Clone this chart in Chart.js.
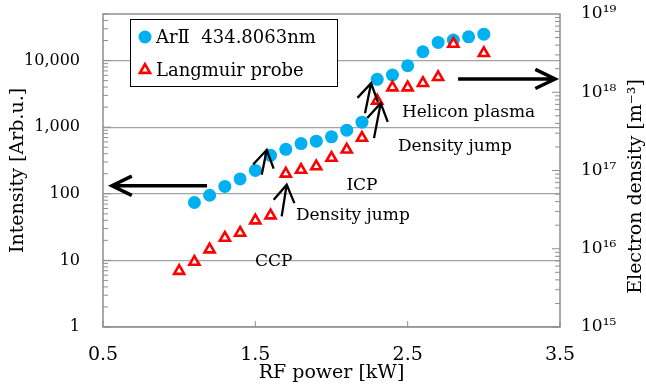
<!DOCTYPE html>
<html>
<head>
<meta charset="utf-8">
<script src="https://cdn.jsdelivr.net/npm/chart.js@4.4.1/dist/chart.umd.min.js"></script>
<style>
  html, body { margin: 0; padding: 0; background: #fff; }
</style>
</head>
<body>
<canvas id="densityChart" width="646" height="385"></canvas>
<script>
// Ar II line intensity (left axis) and Langmuir probe density (right axis) vs RF power
const powerAr = [1.1, 1.2, 1.3, 1.4, 1.5, 1.6, 1.7, 1.8, 1.9, 2.0, 2.1, 2.2, 2.3, 2.4, 2.5, 2.6, 2.7, 2.8, 2.9, 3.0];
const arIntensity = [74, 95, 129, 167, 224, 378, 465, 568, 617, 716, 901, 1190, 5230, 6070, 8360, 13550, 18700, 20300, 22700, 24900];

const powerProbe = [1.0, 1.1, 1.2, 1.3, 1.4, 1.5, 1.6, 1.7, 1.8, 1.9, 2.0, 2.1, 2.2, 2.3, 2.4, 2.5, 2.6, 2.7, 2.8, 3.0];
const probeDensity = [5.2e15, 6.8e15, 9.8e15, 1.38e16, 1.6e16, 2.3e16, 2.66e16, 9.1e16, 1.02e17, 1.13e17,
  1.45e17, 1.85e17, 2.61e17, 7.8e17, 1.15e18, 1.15e18, 1.31e18, 1.56e18, 4.16e18, 3.16e18];

const intensityTicks = [1, 10, 100, 1000, 10000];
const densityTicks = [1e15, 1e16, 1e17, 1e18, 1e19];
const powerTicks = [0.5, 1.5, 2.5, 3.5];

// text and arrows, in data units of the x / left axes
const regionLabels = [
  { text: "Helicon plasma", x: 2.90, y: 1630 },
  { text: "Density jump", x: 2.81, y: 507 },
  { text: "ICP", x: 2.20, y: 132 },
  { text: "Density jump", x: 2.14, y: 47 },
  { text: "CCP", x: 1.62, y: 9.6 },
];
const axisArrows = [
  { from: [1.183, 132], to: [0.559, 132] },
  { from: [2.831, 5290], to: [3.468, 5290] },
];
const jumpArrows = [
  { from: [1.542, 193], to: [1.575, 457] },
  { from: [1.673, 45.9], to: [1.706, 137] },
  { from: [2.220, 1621], to: [2.260, 4560] },
  { from: [2.279, 684], to: [2.323, 2287] },
];

const SERIF = '"DejaVu Serif", "Liberation Serif", serif';
const FRAME = "#8f8f8f";
const SUP = { "0": "\u2070", "1": "\u00b9", "2": "\u00b2", "3": "\u00b3", "4": "\u2074",
  "5": "\u2075", "6": "\u2076", "7": "\u2077", "8": "\u2078", "9": "\u2079" };

Chart.defaults.font.family = SERIF;
Chart.defaults.color = "#000";

function drawArrow(ctx, x1, y1, x2, y2, head, spread, width) {
  const ang = Math.atan2(y1 - y2, x1 - x2);
  ctx.lineWidth = width;
  ctx.beginPath();
  ctx.moveTo(x1, y1);
  ctx.lineTo(x2, y2);
  ctx.moveTo(x2 + Math.cos(ang - spread) * head, y2 + Math.sin(ang - spread) * head);
  ctx.lineTo(x2, y2);
  ctx.lineTo(x2 + Math.cos(ang + spread) * head, y2 + Math.sin(ang + spread) * head);
  ctx.stroke();
}

function marker(ctx, style, x, y, r) {
  ctx.beginPath();
  if (style === "triangle") {
    ctx.moveTo(x, y - r);
    ctx.lineTo(x + r * Math.sin(2 * Math.PI / 3), y + r / 2);
    ctx.lineTo(x - r * Math.sin(2 * Math.PI / 3), y + r / 2);
    ctx.closePath();
  } else {
    ctx.arc(x, y, r, 0, Math.PI * 2);
  }
}

// fixed axis box sizes so the plot area lands where it should
function fixBox(size) {
  return s => {
    if (s.isHorizontal()) s.height = size; else s.width = size;
    s.paddingTop = 0;
    s.paddingBottom = 0;
    s.paddingLeft = 0;
    s.paddingRight = 0;
  };
}

// plot frame plus inward tick marks
const frameTicks = {
  id: "frameTicks",
  beforeDatasetsDraw(chart) {
    const { ctx, chartArea: a, scales } = chart;
    ctx.save();
    ctx.strokeStyle = FRAME;
    ctx.lineWidth = 1.5;
    ctx.strokeRect(a.left, a.top, a.right - a.left, a.bottom - a.top);
    ctx.lineWidth = 1;
    ctx.beginPath();
    [["y", a.left, 1, 1, 50000], ["y2", a.right, -1, 1e15, 1e19]].forEach(([id, x0, dir, lo, hi]) => {
      for (let d = lo; d < hi; d *= 10) {
        for (let k = 1; k < 10; k++) {
          const v = d * k;
          if (v > hi) break;
          const py = scales[id].getPixelForValue(v);
          const len = k === 1 ? 8 : 5;
          ctx.moveTo(x0, py);
          ctx.lineTo(x0 + dir * len, py);
        }
      }
    });
    powerTicks.forEach(v => {
      const px = scales.x.getPixelForValue(v);
      ctx.moveTo(px, a.bottom);
      ctx.lineTo(px, a.bottom - 6);
    });
    ctx.stroke();
    ctx.restore();
  },
};

// region names and arrows
const annotations = {
  id: "annotations",
  afterDatasetsDraw(chart) {
    const { ctx, scales } = chart;
    const px = v => scales.x.getPixelForValue(v);
    const py = v => scales.y.getPixelForValue(v);
    ctx.save();
    ctx.strokeStyle = "#000";
    ctx.lineCap = "butt";
    axisArrows.forEach(a => drawArrow(ctx, px(a.from[0]), py(a.from[1]), px(a.to[0]), py(a.to[1]), 22, 0.45, 3.5));
    jumpArrows.forEach(a => drawArrow(ctx, px(a.from[0]), py(a.from[1]), px(a.to[0]), py(a.to[1]), 20, 0.55, 2.3));
    ctx.fillStyle = "#000";
    ctx.font = "17px " + SERIF;
    ctx.textAlign = "center";
    ctx.textBaseline = "middle";
    regionLabels.forEach(l => ctx.fillText(l.text, px(l.x), py(l.y)));
    ctx.restore();
  },
};

// boxed legend inside the plot, plus the right axis title read bottom-to-top
const legendBox = {
  id: "legendBox",
  afterDraw(chart) {
    const { ctx, chartArea: a } = chart;
    const x0 = a.left + 27, y0 = a.top + 5, w = 207, h = 67;
    ctx.save();
    ctx.fillStyle = "#fff";
    ctx.fillRect(x0, y0, w, h);
    ctx.strokeStyle = "#000";
    ctx.lineWidth = 1;
    ctx.strokeRect(x0 + 0.5, y0 + 0.5, w, h);
    ctx.font = "18px " + SERIF;
    ctx.textBaseline = "middle";
    chart.data.datasets.forEach((ds, i) => {
      const cy = y0 + 18 + i * 33;
      marker(ctx, ds.pointStyle, x0 + 15, cy, ds.pointRadius);
      ctx.fillStyle = ds.backgroundColor;
      ctx.fill();
      if (ds.borderWidth) {
        ctx.lineWidth = ds.borderWidth;
        ctx.strokeStyle = ds.borderColor;
        ctx.stroke();
      }
      ctx.fillStyle = "#000";
      ctx.fillText(ds.label, x0 + 26, cy + 1);
    });

    ctx.font = "19px " + SERIF;
    ctx.textAlign = "center";
    ctx.translate(636, (a.top + a.bottom) / 2 + 16);
    ctx.rotate(-Math.PI / 2);
    ctx.fillText("Electron density [m\u207b\u00b3]", 0, 0);
    ctx.restore();
  },
};

new Chart(document.getElementById("densityChart"), {
  type: "scatter",
  data: {
    datasets: [
      {
        label: "Ar\u2161  434.8063nm",
        data: powerAr.map((p, i) => ({ x: p, y: arIntensity[i] })),
        yAxisID: "y",
        pointStyle: "circle",
        pointRadius: 6.5,
        backgroundColor: "#00b0f0",
        borderColor: "#00b0f0",
        borderWidth: 0,
        order: 2,
      },
      {
        label: "Langmuir probe",
        data: powerProbe.map((p, i) => ({ x: p, y: probeDensity[i] })),
        yAxisID: "y2",
        pointStyle: "triangle",
        pointRadius: 5.8,
        backgroundColor: "#fff",
        borderColor: "#ff0000",
        borderWidth: 2.6,
        order: 1,
      },
    ],
  },
  options: {
    responsive: false,
    animation: false,
    events: [],
    layout: { padding: { top: 14, left: 0, right: 0, bottom: 0 } },
    plugins: {
      legend: { display: false },
      tooltip: { enabled: false },
    },
    scales: {
      x: {
        type: "linear",
        min: 0.5,
        max: 3.5,
        afterBuildTicks: s => { s.ticks = powerTicks.map(v => ({ value: v })); },
        afterFit: fixBox(58),
        ticks: { padding: 17, font: { size: 19 }, callback: v => v.toFixed(1) },
        grid: { display: false, drawTicks: false },
        border: { display: false },
        title: { display: true, text: "RF power [kW]", font: { size: 19 }, padding: { top: 0, bottom: 1 } },
      },
      y: {
        type: "logarithmic",
        position: "left",
        min: 1,
        max: 50000,
        afterBuildTicks: s => { s.ticks = intensityTicks.map(v => ({ value: v })); },
        afterFit: fixBox(103),
        ticks: { padding: 23, font: { size: 16 }, callback: v => v.toLocaleString("en-US") },
        grid: { color: "#a3a3a3", lineWidth: 1.3, drawTicks: false },
        border: { display: false },
        title: { display: true, text: "Intensity [Arb.u.]", font: { size: 19 }, padding: { top: 7, bottom: 0 } },
      },
      y2: {
        type: "logarithmic",
        position: "right",
        min: 1e15,
        max: 1e19,
        afterBuildTicks: s => { s.ticks = densityTicks.map(v => ({ value: v })); },
        afterFit: fixBox(86),
        ticks: {
          padding: 21,
          font: { size: 17 },
          callback: v => "10" + String(Math.round(Math.log10(v))).split("").map(c => SUP[c]).join(""),
        },
        grid: { display: false, drawTicks: false },
        border: { display: false },
      },
    },
  },
  plugins: [frameTicks, annotations, legendBox],
});
</script>
</body>
</html>
